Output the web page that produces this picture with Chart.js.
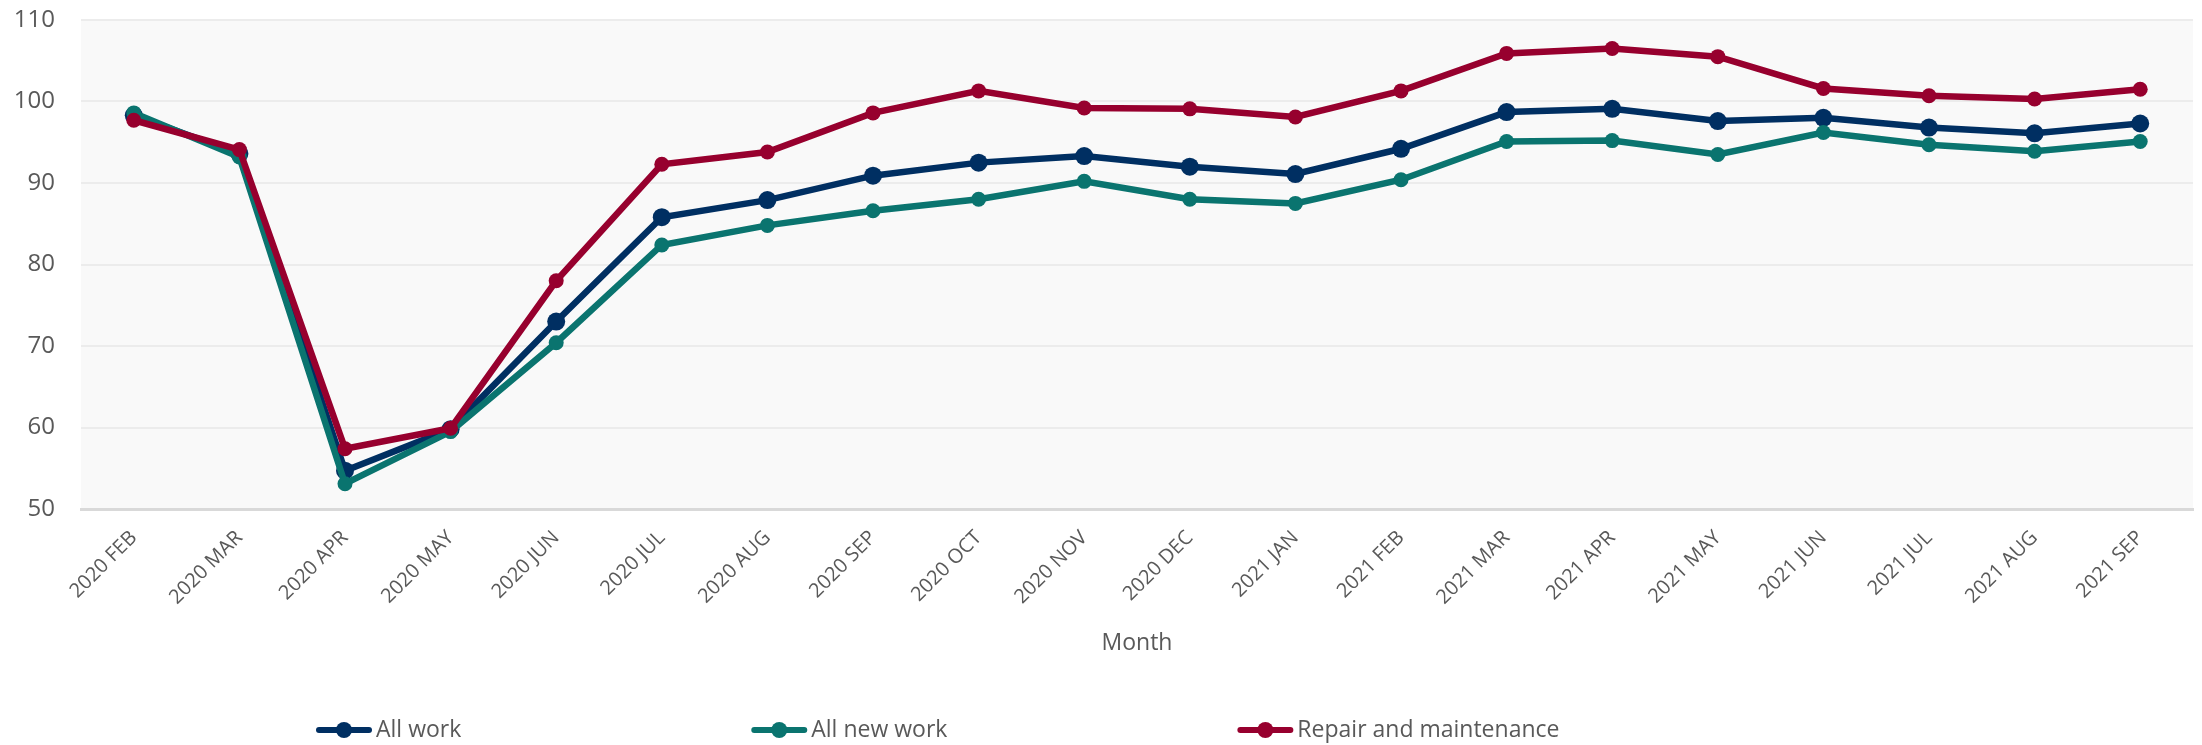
<!DOCTYPE html>
<html lang="en">
<head>
    <meta charset="UTF-8">
    <title>Construction output index</title>
    <script src="https://cdn.jsdelivr.net/npm/chart.js"></script>
    <style>
        html, body {
            margin: 0;
            padding: 0;
            background-color: #ffffff;
        }

        .chart-container {
            position: relative;
            width: 2202px;
            height: 745px;
        }
    </style>
</head>
<body>

    <div class="chart-container">
        <canvas id="outputChart"></canvas>
    </div>

    <script>
        const months = [
            '2020 FEB', '2020 MAR', '2020 APR', '2020 MAY', '2020 JUN', '2020 JUL', '2020 AUG',
            '2020 SEP', '2020 OCT', '2020 NOV', '2020 DEC', '2021 JAN', '2021 FEB', '2021 MAR',
            '2021 APR', '2021 MAY', '2021 JUN', '2021 JUL', '2021 AUG', '2021 SEP'
        ];
        const allWork = [98.3, 93.6, 54.7, 59.8, 73.0, 85.8, 87.9, 90.9, 92.5, 93.3, 92.0, 91.1, 94.2, 98.7, 99.1, 97.6, 98.0, 96.8, 96.1, 97.3];
        const allNewWork = [98.6, 93.2, 53.1, 59.5, 70.4, 82.4, 84.8, 86.6, 88.0, 90.2, 88.0, 87.5, 90.4, 95.1, 95.2, 93.5, 96.2, 94.7, 93.9, 95.1];
        const repairMaintenance = [97.7, 94.1, 57.4, 59.9, 78.0, 92.3, 93.8, 98.6, 101.3, 99.2, 99.1, 98.1, 101.3, 105.9, 106.5, 105.5, 101.6, 100.7, 100.3, 101.5];
        const seriesNames = ['All work', 'All new work', 'Repair and maintenance'];
        const yTicks = [50, 60, 70, 80, 90, 100, 110];

        const textColor = '#595959';
        const fontFamily = '"Open Sans", "DejaVu Sans", sans-serif';

        // grey panel behind the plot area
        const plotBackground = {
            id: 'plotBackground',
            beforeDraw(chart) {
                const { ctx, chartArea } = chart;
                ctx.save();
                ctx.fillStyle = '#f9f9f9';
                ctx.fillRect(chartArea.left, chartArea.top, chartArea.right - chartArea.left, chartArea.bottom - chartArea.top);
                ctx.restore();
            }
        };

        // legend row along the bottom: line + dot marker, then the series name
        const legendRow = {
            id: 'legendRow',
            afterDraw(chart) {
                const ctx = chart.ctx;
                const y = 730;
                let x = 316;
                ctx.save();
                ctx.font = '23px ' + fontFamily;
                ctx.textBaseline = 'middle';
                chart.data.datasets.forEach(ds => {
                    ctx.strokeStyle = ds.borderColor;
                    ctx.lineWidth = 6;
                    ctx.lineCap = 'round';
                    ctx.beginPath();
                    ctx.moveTo(x + 3, y);
                    ctx.lineTo(x + 53, y);
                    ctx.stroke();

                    ctx.fillStyle = ds.borderColor;
                    ctx.beginPath();
                    ctx.arc(x + 28, y, 8, 0, Math.PI * 2);
                    ctx.fill();

                    ctx.fillStyle = textColor;
                    ctx.fillText(ds.label, x + 60, y);
                    x += 60 + ctx.measureText(ds.label).width + 290;
                });
                ctx.restore();
            }
        };

        function makeSeries(label, data, color, radius, order) {
            return {
                label: label,
                data: data,
                borderColor: color,
                backgroundColor: color,
                borderWidth: 6.5,
                pointRadius: radius,
                pointBorderWidth: 0,
                pointBackgroundColor: color,
                tension: 0,
                order: order
            };
        }

        const ctx = document.getElementById('outputChart').getContext('2d');
        const outputChart = new Chart(ctx, {
            type: 'line',
            data: {
                labels: months,
                datasets: [
                    makeSeries(seriesNames[0], allWork, '#002f62', 9, 3),
                    makeSeries(seriesNames[1], allNewWork, '#0a746f', 7.5, 2),
                    makeSeries(seriesNames[2], repairMaintenance, '#97002e', 7.5, 1)
                ]
            },
            options: {
                responsive: true,
                maintainAspectRatio: false,
                animation: false,
                layout: {
                    padding: { top: 20, right: 4, bottom: 84, left: 0 }
                },
                plugins: {
                    legend: { display: false },
                    tooltip: { enabled: false }
                },
                scales: {
                    x: {
                        offset: true,
                        grid: { display: false, drawTicks: false },
                        border: { display: true, color: '#d9d9d9', width: 3 },
                        ticks: {
                            autoSkip: false,
                            minRotation: 45,
                            maxRotation: 45,
                            padding: 17,
                            color: textColor,
                            font: { family: fontFamily, size: 20 }
                        },
                        title: {
                            display: true,
                            text: 'Month',
                            color: textColor,
                            font: { family: fontFamily, size: 23 },
                            padding: { top: 0, bottom: 4 }
                        },
                        afterFit(scale) {
                            scale.height = 152;
                        }
                    },
                    y: {
                        min: yTicks[0],
                        max: yTicks[yTicks.length - 1],
                        grid: {
                            color: '#ececec',
                            lineWidth: 2,
                            drawTicks: true,
                            tickLength: 23,
                            tickColor: 'rgba(0,0,0,0)'
                        },
                        border: { display: false },
                        ticks: {
                            stepSize: yTicks[1] - yTicks[0],
                            padding: 3,
                            color: textColor,
                            font: { family: fontFamily, size: 24 }
                        },
                        afterFit(scale) {
                            scale.width = 81;
                        }
                    }
                }
            },
            plugins: [plotBackground, legendRow]
        });
    </script>

</body>
</html>
